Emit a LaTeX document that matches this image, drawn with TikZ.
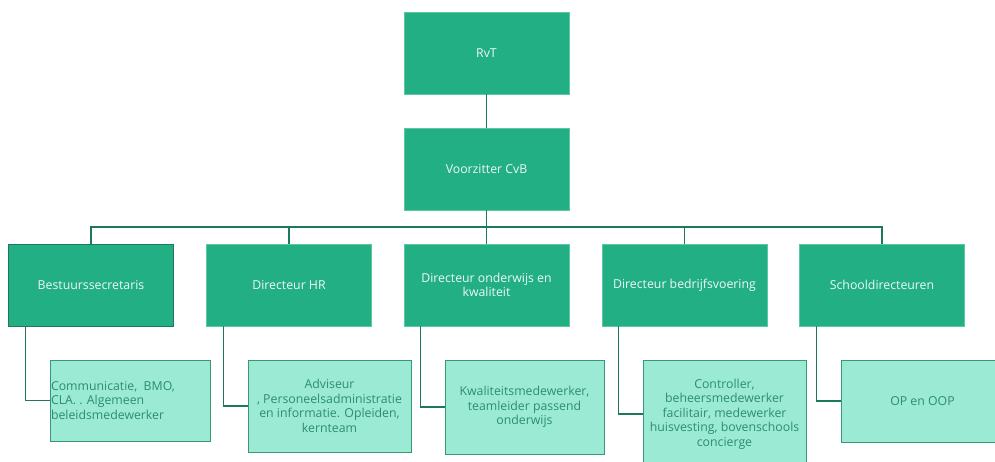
\documentclass[tikz,border=0pt]{standalone}
\usepackage{fontspec}
\setmainfont{Open Sans}
\usepackage{tikz}
\usetikzlibrary{positioning,calc}
\definecolor{darkbox}{RGB}{35,175,132}
\definecolor{darkedge}{RGB}{92,200,163}
\definecolor{lightbox}{RGB}{155,235,212}
\definecolor{lightedge}{RGB}{58,150,120}
\definecolor{linkcol}{RGB}{30,120,95}
\definecolor{lighttext}{RGB}{45,140,112}
\tikzset{
	head/.style = {
			draw            = darkedge,
			fill            = darkbox,
			text            = white!92!darkbox,
			minimum width   = 165pt,
			minimum height  = 82pt,
			inner sep       = 0pt,
			align           = center,
			font            = \fontsize{12.3}{14.5}\selectfont,
		},
	staff/.style = {
			draw            = lightedge,
			fill            = lightbox,
			text            = lighttext,
			inner sep       = 0pt,
			align           = center,
			font            = \fontsize{12.3}{14.5}\selectfont,
		},
	link/.style = {draw=linkcol, line width=1.3pt},
}

\begin{document}
\begin{tikzpicture}[x=1pt,y=-1pt]
	\useasboundingbox (0,0) rectangle (995,461);

	% top of the tree
	\node[head] (rvt) at (486.5,53)  {RvT};
	\node[head] (cvb) at (486.5,169) {Voorzitter CvB};
	\coordinate (bus) at (486.5,227);

	% directors
	\node[head, draw=linkcol] (bs) at (91,285)    {Bestuurssecretaris};
	\node[head] (hr) at (289,285)   {Directeur HR};
	\node[head] (ok) at (486.5,285) {Directeur onderwijs en\\kwaliteit};
	\node[head] (bv) at (684.5,285) {Directeur bedrijfsvoering};
	\node[head] (sd) at (882,285)   {Schooldirecteuren};

	% staff under each director
	\node[staff, minimum width=160pt, minimum height=81pt]  (bss) at (130,400.5) {};
	\node[anchor=west, align=left, inner sep=0pt, text=lighttext, font=\fontsize{12.3}{14.5}\selectfont]
		(bst) at ([xshift=1pt]bss.west) {Communicatie,\ \ BMO,\\CLA. . Algemeen\\beleidsmedewerker};
	\node[staff, minimum width=163pt, minimum height=92pt]  (hrs) at (329.5,406) {Adviseur\\, Personeelsadministratie\\en informatie. Opleiden,\\kernteam};
	\node[staff, minimum width=159pt, minimum height=94pt]  (oks) at (524.5,407) {Kwaliteitsmedewerker,\\teamleider passend\\onderwijs};
	\node[staff, minimum width=163pt, minimum height=108pt] (bvs) at (724.5,414) {Controller,\\beheersmedewerker\\facilitair, medewerker\\huisvesting, bovenschools\\concierge};
	\node[staff, minimum width=163pt, minimum height=82pt]  (sds) at (922.5,401) {OP en OOP};

	\draw[link] (rvt.south) -- (cvb.north);
	\draw[link] (cvb.south) -- (bus);
	\foreach \d in {bs,hr,ok,bv,sd}
		\draw[link] (\d.north) |- (bus);

	\draw[link] ([xshift=17pt]bs.south west) |- (bss.west);
	\draw[link] ([xshift=17pt]hr.south west) |- (hrs.west);
	\draw[link] ([xshift=17pt]ok.south west) |- (oks.west);
	\draw[link] ([xshift=17pt]bv.south west) |- (bvs.west);
	\draw[link] ([xshift=17pt]sd.south west) |- (sds.west);
\end{tikzpicture}
\end{document}
